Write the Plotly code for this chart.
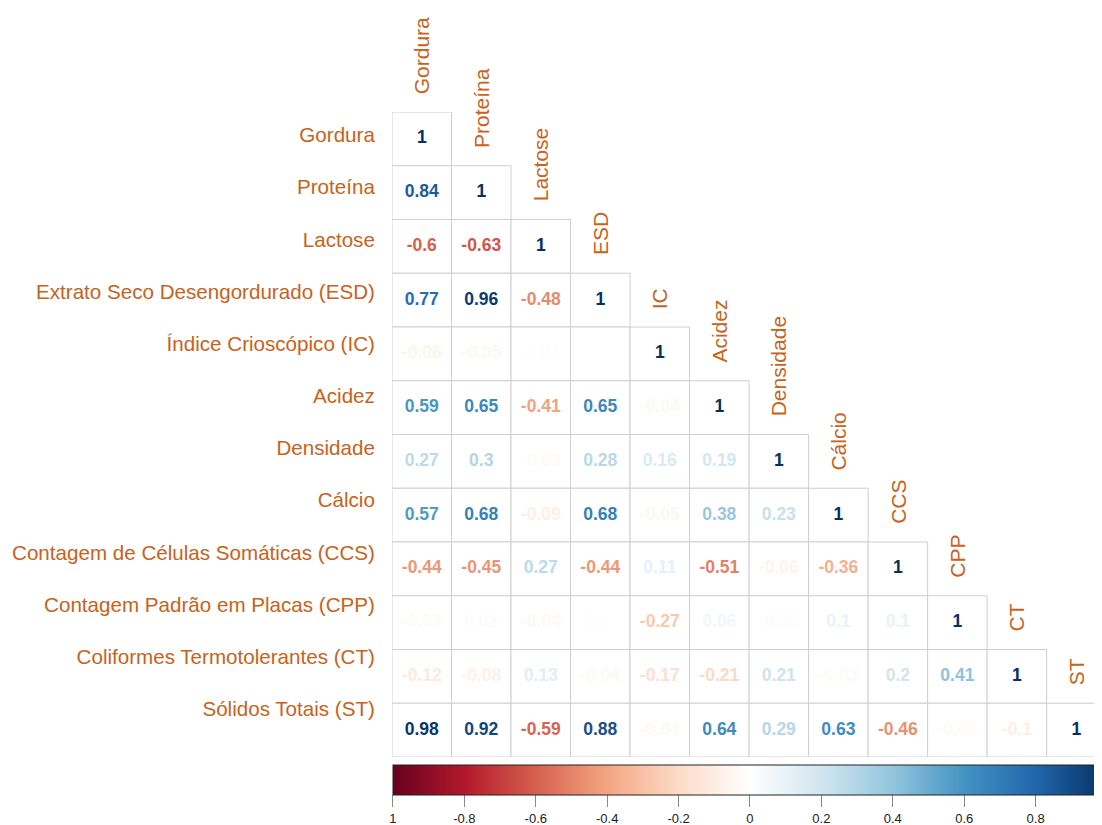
import plotly.graph_objects as go

row_labels = ["Gordura", "Proteína", "Lactose", "Extrato Seco Desengordurado (ESD)",
              "Índice Crioscópico (IC)", "Acidez", "Densidade", "Cálcio",
              "Contagem de Células Somáticas (CCS)", "Contagem Padrão em Placas (CPP)",
              "Coliformes Termotolerantes (CT)", "Sólidos Totais (ST)"]
col_labels = ["Gordura", "Proteína", "Lactose", "ESD", "IC", "Acidez", "Densidade",
              "Cálcio", "CCS", "CPP", "CT", "ST"]

r_gordura = [1]
r_proteina = [0.84, 1]
r_lactose = [-0.6, -0.63, 1]
r_esd = [0.77, 0.96, -0.48, 1]
r_ic = [-0.06, -0.05, -0.01, 0, 1]
r_acidez = [0.59, 0.65, -0.41, 0.65, -0.04, 1]
r_densidade = [0.27, 0.3, -0.03, 0.28, 0.16, 0.19, 1]
r_calcio = [0.57, 0.68, -0.09, 0.68, -0.05, 0.38, 0.23, 1]
r_ccs = [-0.44, -0.45, 0.27, -0.44, 0.11, -0.51, -0.06, -0.36, 1]
r_cpp = [-0.03, 0.02, -0.04, 0.01, -0.27, 0.06, -0.02, 0.1, 0.1, 1]
r_ct = [-0.12, -0.08, 0.13, -0.04, -0.17, -0.21, 0.21, -0.03, 0.2, 0.41, 1]
r_st = [0.98, 0.92, -0.59, 0.88, -0.04, 0.64, 0.29, 0.63, -0.46, -0.03, -0.1, 1]

rows_vals = [r_gordura, r_proteina, r_lactose, r_esd, r_ic, r_acidez, r_densidade,
             r_calcio, r_ccs, r_cpp, r_ct, r_st]

cbar_ticks = [-1, -0.8, -0.6, -0.4, -0.2, 0, 0.2, 0.4, 0.6, 0.8, 1]
cbar_text = ["1", "-0.8", "-0.6", "-0.4", "-0.2", "0", "0.2", "0.4", "0.6", "0.8", "1"]

rdbu = ["#67001F", "#B2182B", "#D6604D", "#F4A582", "#FDDBC7", "#FFFFFF",
        "#D1E5F0", "#92C5DE", "#4393C3", "#2166AC", "#053061"]
colorscale = [[i / (len(rdbu) - 1), c] for i, c in enumerate(rdbu)]

LABEL_COLOR = "#C8621C"
FONT = "Liberation Sans, Arial, sans-serif"


def hex2rgb(h):
    h = h.lstrip("#")
    return tuple(int(h[i:i + 2], 16) for i in (0, 2, 4))


def color_of(v):
    t = (v + 1) / 2 * (len(rdbu) - 1)
    i = min(int(t), len(rdbu) - 2)
    f = t - i
    a, b = hex2rgb(rdbu[i]), hex2rgb(rdbu[i + 1])
    c = [round(a[k] + (b[k] - a[k]) * f) for k in range(3)]
    return "rgb(%d,%d,%d)" % tuple(c)


def fmt(v):
    if v == int(v):
        return str(int(v))
    return ("%.2f" % v).rstrip("0")


xs, ys, txt, cols = [], [], [], []
shapes = []
for i, vals in enumerate(rows_vals):
    for j, v in enumerate(vals):
        xs.append(j)
        ys.append(i)
        txt.append(fmt(v))
        cols.append(color_of(v))
        shapes.append(dict(type="rect", xref="x", yref="y", x0=j - 0.5, x1=j + 0.5,
                           y0=i - 0.5, y1=i + 0.5, line=dict(color="#CFCFCF", width=1),
                           fillcolor="white", layer="below"))

fig = go.Figure()
fig.add_trace(go.Scatter(x=xs, y=ys, mode="text", text=txt,
                         textfont=dict(color=cols, size=17.5, family=FONT, weight="bold"),
                         hoverinfo="skip", showlegend=False))
# colour scale bar
fig.add_trace(go.Scatter(x=[None], y=[None], mode="markers", hoverinfo="skip", showlegend=False,
                         marker=dict(color=[0], colorscale=colorscale, cmin=-1, cmax=1,
                                     showscale=True,
                                     colorbar=dict(orientation="h", x=0.5042, xanchor="center",
                                                   y=-0.0124, yanchor="top", thickness=30,
                                                   lenmode="pixels", len=714, xpad=0, ypad=0,
                                                   outlinewidth=1, outlinecolor="#222",
                                                   tickvals=cbar_ticks, ticktext=cbar_text,
                                                   ticks="outside", ticklen=12, tickcolor="#888",
                                                   tickfont=dict(size=13, color="#222", family=FONT)))))
# label axis for row names
fig.add_trace(go.Scatter(x=[0] * len(row_labels), y=list(range(len(row_labels))), yaxis="y2",
                         mode="markers", marker=dict(opacity=0), hoverinfo="skip", showlegend=False))

annotations = []
for j, name in enumerate(col_labels):
    annotations.append(dict(x=j, y=j - 0.5, xref="x", yref="y", text=name, showarrow=False,
                            textangle=-90, xanchor="center", yanchor="bottom", yshift=16,
                            font=dict(size=21, color=LABEL_COLOR, family=FONT)))

# the page body adds an 8 px offset, so the figure is 8 px smaller on each side
fig.update_layout(
    width=1094, height=817,
    margin=dict(l=384, r=0, t=104, b=68, autoexpand=False),
    paper_bgcolor="white", plot_bgcolor="white",
    shapes=shapes, annotations=annotations,
    xaxis=dict(range=[-0.5, 11.43], showgrid=False, zeroline=False, showticklabels=False,
               ticks="", showline=False),
    yaxis=dict(range=[11.5, -0.5], showgrid=False, zeroline=False, showticklabels=False,
               ticks="", showline=False),
    yaxis2=dict(range=[11.92, -0.44], overlaying="y", side="left", showgrid=False,
                zeroline=False, tickvals=list(range(len(row_labels))), ticktext=row_labels,
                ticks="outside", ticklen=12, tickcolor="rgba(0,0,0,0)", showline=False,
                tickfont=dict(size=20.6, color=LABEL_COLOR, family=FONT)),
)

fig.write_html("out.html")
